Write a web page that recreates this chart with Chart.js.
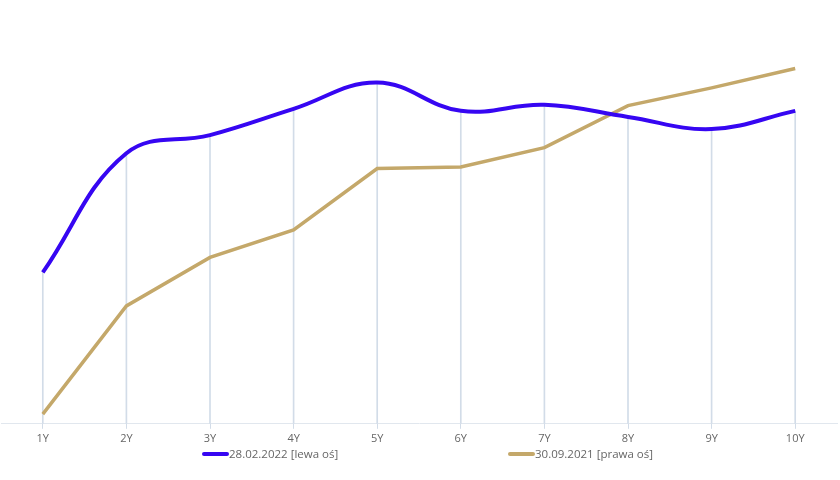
<!DOCTYPE html>
<html>
<head>
<meta charset="utf-8">
<script src="https://cdn.jsdelivr.net/npm/chart.js@4/dist/chart.umd.min.js"></script>
<style>
  html, body { margin: 0; padding: 0; background: #fff; }
  .wrap { position: relative; width: 840px; height: 480px; }
  .legend-item {
    position: absolute;
    top: 446px;
    display: flex;
    align-items: center;
    font-family: "Open Sans", sans-serif;
    font-size: 11.5px;
    color: #666;
    white-space: nowrap;
  }
  .legend-item .mark { width: 27px; height: 4px; border-radius: 2px; }
</style>
</head>
<body>
<div class="wrap">
  <canvas id="c" width="840" height="480"></canvas>
  <div class="legend-item" style="left:202px"><span class="mark" style="background:#3606f2"></span><span>28.02.2022 [lewa oś]</span></div>
  <div class="legend-item" style="left:508px"><span class="mark" style="background:#c4a86a"></span><span>30.09.2021 [prawa oś]</span></div>
</div>
<script>
const labels = ['1Y', '2Y', '3Y', '4Y', '5Y', '6Y', '7Y', '8Y', '9Y', '10Y'];
const feb2022 = [3.75, 4.34, 4.43, 4.56, 4.69, 4.55, 4.58, 4.52, 4.46, 4.55];
const sep2021 = [0.06, 0.73, 1.03, 1.20, 1.58, 1.59, 1.71, 1.97, 2.08, 2.20];

const blue = '#3606f2';
const tan = '#c4a86a';
const gridColor = '#d2dce8';

new Chart(document.getElementById('c'), {
    type: 'line',
    data: {
        labels: labels,
        datasets: [
            {
                label: '28.02.2022 [lewa oś]',
                data: feb2022,
                yAxisID: 'yLeft',
                borderColor: blue,
                borderWidth: 4,
                tension: 0.4,
                pointRadius: 0,
                order: 1,
            },
            {
                label: '30.09.2021 [prawa oś]',
                data: sep2021,
                yAxisID: 'yRight',
                borderColor: tan,
                borderWidth: 3.5,
                tension: 0,
                pointRadius: 0,
                order: 2,
            },
            {
                // drop lines under the left-axis series
                type: 'bar',
                data: feb2022,
                yAxisID: 'yLeft',
                backgroundColor: gridColor,
                barThickness: 1,
                order: 3,
            }
        ]
    },
    options: {
        responsive: false,
        animation: false,
        layout: {
            padding: { top: 20, left: 1, right: 3, bottom: 32 }
        },
        scales: {
            x: {
                offset: true,
                grid: {
                    offset: false,
                    drawOnChartArea: false,
                    tickLength: 5,
                    color: gridColor,
                },
                border: { color: '#e1e7ee', width: 1 },
                ticks: {
                    color: '#666',
                    font: { family: 'Open Sans', size: 11 },
                    padding: 3,
                }
            },
            yLeft: { display: false, position: 'left', min: 3, max: 5 },
            yRight: { display: false, position: 'right', min: 0, max: 2.5 },
        },
        plugins: {
            legend: { display: false },
            tooltip: { enabled: false },
        }
    }
});
</script>
</body>
</html>
